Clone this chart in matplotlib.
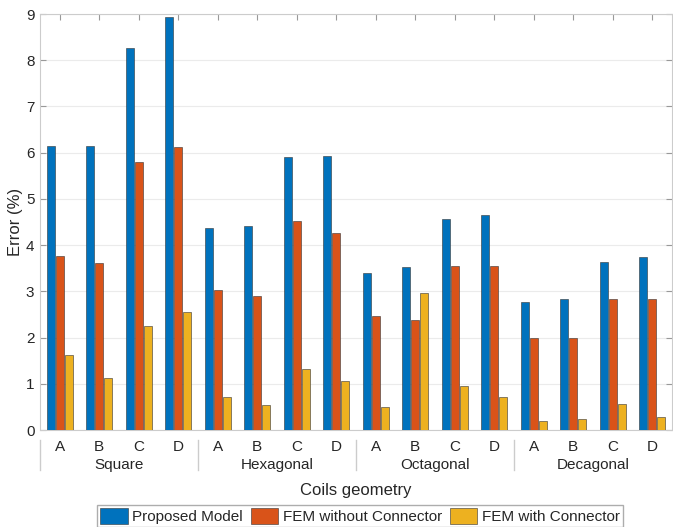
import numpy as np
import matplotlib
matplotlib.use('Agg')
import matplotlib.pyplot as plt

plt.rcParams['font.family'] = ['Liberation Sans', 'DejaVu Sans']

# Data
coils = ['A', 'B', 'C', 'D']
geometries = ['Square', 'Hexagonal', 'Octagonal', 'Decagonal']
proposed = [6.15, 6.15, 8.27, 8.93,
            4.37, 4.42, 5.90, 5.92,
            3.40, 3.53, 4.57, 4.65,
            2.76, 2.84, 3.64, 3.75]
fem_no_conn = [3.77, 3.62, 5.79, 6.13,
               3.02, 2.89, 4.52, 4.26,
               2.47, 2.37, 3.55, 3.55,
               1.98, 1.98, 2.84, 2.84]
fem_conn = [1.62, 1.12, 2.26, 2.55,
            0.71, 0.54, 1.33, 1.07,
            0.49, 2.97, 0.95, 0.71,
            0.20, 0.23, 0.57, 0.29]
series_names = ['Proposed Model', 'FEM without Connector', 'FEM with Connector']
colors = ['#0072BD', '#D95319', '#EDB120']

txt = '#262626'
fig = plt.figure(figsize=(6.73, 5.27), dpi=100)
ax = fig.add_axes([40 / 673, 1 - 430 / 527, 632 / 673, 416 / 527])

x = np.arange(len(proposed))
w = 0.21
offsets = [-0.23, 0.0, 0.23]
for vals, off, c, name in zip([proposed, fem_no_conn, fem_conn], offsets, colors, series_names):
    ax.bar(x + off, vals, width=w, color=c, edgecolor='#333333', linewidth=0.4, label=name, zorder=3)

ax.set_xlim(-0.5, len(proposed) - 0.5)
ax.set_ylim(0, 9)
ax.set_yticks(range(10))
ax.set_xticks(x)
ax.set_xticklabels(coils * len(geometries))
ax.tick_params(axis='both', direction='in', length=4, colors='#999999', labelcolor=txt, labelsize=11)
ax.tick_params(axis='x', top=True, bottom=False, pad=7)
ax.tick_params(axis='y', right=True, pad=4)
ax.grid(axis='y', color='#ebebeb', linewidth=0.8, zorder=0)
for s in ax.spines.values():
    s.set_color('#cccccc')
    s.set_linewidth(0.8)

# geometry group labels and separators
for i, g in enumerate(geometries):
    ax.text(i * 4 + 1.5, -0.083, g, transform=ax.get_xaxis_transform(),
            ha='center', va='center', fontsize=11, color=txt)
    ax.plot([i * 4 - 0.5, i * 4 - 0.5], [-0.024, -0.096], transform=ax.get_xaxis_transform(),
            color='#cccccc', linewidth=1, clip_on=False)

ax.set_ylabel('Error (%)', fontsize=12, color=txt, labelpad=2)
ax.set_xlabel('Coils geometry', fontsize=12, color=txt, labelpad=21)

leg = fig.legend(loc='lower center', bbox_to_anchor=(0.535, -0.006), ncol=3, fontsize=11,
                 frameon=True, fancybox=False, edgecolor='#999999', handlelength=1.8,
                 handleheight=1.2, handletextpad=0.3, columnspacing=0.5, borderpad=0.2,
                 borderaxespad=0.2)
for t in leg.get_texts():
    t.set_color(txt)

fig.savefig('out.png', dpi=100)
